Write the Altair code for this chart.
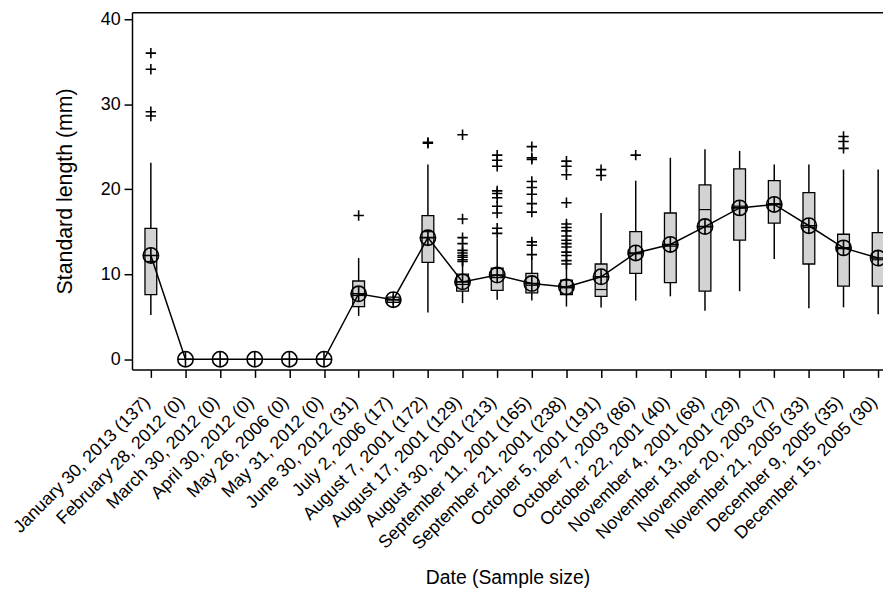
import json
import altair as alt
import pandas as pd

labels = [
    "January 30, 2013 (137)", "February 28, 2012 (0)", "March 30, 2012 (0)",
    "April 30, 2012 (0)", "May 26, 2006 (0)", "May 31, 2012 (0)",
    "June 30, 2012 (31)", "July 2, 2006 (17)", "August 7, 2001 (172)",
    "August 17, 2001 (129)", "August 30, 2001 (213)", "September 11, 2001 (165)",
    "September 21, 2001 (238)", "October 5, 2001 (191)", "October 7, 2003 (86)",
    "October 22, 2001 (40)", "November 4, 2001 (68)", "November 13, 2001 (29)",
    "November 20, 2003 (7)", "November 21, 2005 (33)", "December 9, 2005 (35)",
    "December 15, 2005 (30)",
]
means = [12.2, 0, 0, 0, 0, 0, 7.7, 7.0, 14.3, 9.1, 9.9, 8.9, 8.5, 9.7,
         12.5, 13.5, 15.6, 17.8, 18.2, 15.7, 13.1, 11.9]

box_cat = [0, 6, 7, 8, 9, 10, 11, 12, 13, 14, 15, 16, 17, 18, 19, 20, 21]
q1 = [7.6, 6.2, 6.7, 11.4, 8.0, 8.1, 7.8, 7.6, 7.4, 10.1, 9.0, 8.0, 14.0, 16.0, 11.2, 8.6, 8.6]
q3 = [15.4, 9.2, 7.3, 16.9, 10.0, 10.7, 10.1, 9.3, 11.2, 15.0, 17.2, 20.5, 22.4, 21.0, 19.6, 14.7, 14.9]
medians = [11.5, 7.5, 7.0, 15.0, 8.8, 9.6, 8.7, 8.4, 8.2, 12.4, 13.3, 17.6, 18.0, 18.3, 15.5, 13.0, 11.7]
whisker_lo = [5.2, 5.1, 6.4, 5.5, 6.6, 7.0, 6.9, 6.2, 6.1, 6.9, 7.4, 5.7, 8.0, 11.8, 6.0, 6.1, 5.3]
whisker_hi = [23.1, 11.9, 7.6, 22.9, 11.3, 14.2, 12.0, 11.0, 17.2, 21.0, 23.7, 24.7, 24.5, 22.9, 22.9, 22.3, 22.3]

outlier_cat = [0, 0, 0, 0,
               6,
               8, 8,
               9, 9, 9, 9, 9, 9, 9, 9, 9, 9,
               10, 10, 10, 10, 10, 10, 10, 10, 10, 10,
               11, 11, 11, 11, 11, 11, 11, 11, 11, 11, 11,
               12, 12, 12, 12, 12, 12, 12, 12, 12, 12, 12, 12, 12, 12, 12,
               13, 13,
               14,
               20, 20, 20]
outlier_val = [36.0, 34.1, 29.1, 28.6,
               16.9,
               25.4, 25.5,
               26.4, 16.5, 14.3, 13.6, 12.8, 12.5, 12.2, 12.0, 11.7, 11.5,
               24.0, 23.4, 22.7, 19.8, 19.5, 19.0, 18.0, 17.2, 15.4, 14.8,
               25.0, 23.7, 23.5, 20.9, 20.2, 19.4, 18.3, 17.3, 13.8, 13.4, 12.3,
               23.3, 22.7, 21.7, 18.4, 15.9, 15.5, 15.1, 14.5, 14.0, 13.6, 13.2, 12.6, 12.2, 11.6, 11.2,
               22.3, 21.6,
               24.0,
               26.2, 25.6, 24.8]

mean_df = pd.DataFrame({"idx": list(range(len(labels))), "mean": means})
box_df = pd.DataFrame({"idx": box_cat, "q1": q1, "q3": q3, "median": medians,
                       "lo": whisker_lo, "hi": whisker_hi})
out_df = pd.DataFrame({"idx": outlier_cat, "val": outlier_val})

FONT = "Liberation Sans"
xscale = alt.Scale(domain=[-0.544, 21.14], nice=False, zero=False)
yscale = alt.Scale(domain=[-1.2, 40.8], nice=False, zero=False)

bottom_axis = alt.Axis(
    values=list(range(len(labels))),
    labelExpr=json.dumps(labels) + "[datum.value]",
    labelAngle=-45, labelFontSize=18, labelFont=FONT, labelColor="black",
    labelAlign="right", labelBaseline="middle",
    labelPadding=22, labelOffset=-4,
    labelOverlap=False, labelLimit=0, labelBound=False,
    tickSize=8, tickColor="black", tickWidth=1.5,
    domainColor="black", domainWidth=1.5, grid=False,
    title="Date (Sample size)", titleFont=FONT, titleFontSize=19.5,
    titleFontWeight="normal", titleColor="black", titlePadding=16,
)
top_axis = alt.Axis(orient="top", labels=False, ticks=False, grid=False,
                    domainColor="black", domainWidth=1.5, title=None)
y_axis = alt.Axis(
    values=[0, 10, 20, 30, 40], labelFontSize=18, labelFont=FONT,
    labelColor="black", labelPadding=4,
    tickSize=8, tickColor="black", tickWidth=1.5,
    domainColor="black", domainWidth=1.5, grid=False,
    title="Standard length (mm)", titleFont=FONT, titleFontSize=21.5,
    titleFontWeight="normal", titleColor="black", titlePadding=24,
)

def Y(field):
    return alt.Y(field, type="quantitative", scale=yscale, axis=y_axis)

HALF = 0.17

whiskers = alt.Chart(box_df).mark_rule(color="black", strokeWidth=1.5).encode(
    x=alt.X("idx:Q", scale=xscale, axis=None),
    y=Y("lo"), y2="hi:Q",
)
boxes = alt.Chart(box_df).transform_calculate(
    xl=f"datum.idx - {HALF}", xr=f"datum.idx + {HALF}"
).mark_rect(fill="#d3d3d3", stroke="black", strokeWidth=1.3).encode(
    x=alt.X("xl:Q", scale=xscale, axis=None), x2="xr:Q",
    y=Y("q1"), y2="q3:Q",
)
median_lines = alt.Chart(box_df).transform_calculate(
    xl=f"datum.idx - {HALF}", xr=f"datum.idx + {HALF}"
).mark_rule(color="black", strokeWidth=1.2).encode(
    x=alt.X("xl:Q", scale=xscale, axis=None), x2="xr:Q",
    y=Y("median"),
)
mean_line = alt.Chart(mean_df).mark_line(color="black", strokeWidth=1.5).encode(
    x=alt.X("idx:Q", scale=xscale, axis=top_axis),
    y=Y("mean"),
)
plus_path = "M-1,0H1M0,-1V1"
outliers = alt.Chart(out_df).mark_point(
    shape=plus_path, size=110, stroke="black", strokeWidth=1.6, filled=False, opacity=1
).encode(
    x=alt.X("idx:Q", scale=xscale, axis=None),
    y=Y("val"),
)
circ_cross = "M-1,0A1,1,0,1,1,1,0A1,1,0,1,1,-1,0ZM-1,0H1M0,-1V1"
mean_marks = alt.Chart(mean_df).mark_point(
    shape=circ_cross, size=240, stroke="black", strokeWidth=1.6, filled=False, opacity=1
).encode(
    x=alt.X("idx:Q", scale=xscale, axis=bottom_axis),
    y=Y("mean"),
)

chart = alt.layer(
    whiskers, boxes, median_lines, mean_line, outliers, mean_marks
).resolve_axis(x="independent").properties(
    width=757, height=360,
    autosize=alt.AutoSizeParams(type="none"),
    padding={"left": 125, "top": 2, "right": 0, "bottom": 224},
    background="white",
).configure_view(stroke=None)

chart.save("out.html", embed_options={"renderer": "svg", "actions": False})
